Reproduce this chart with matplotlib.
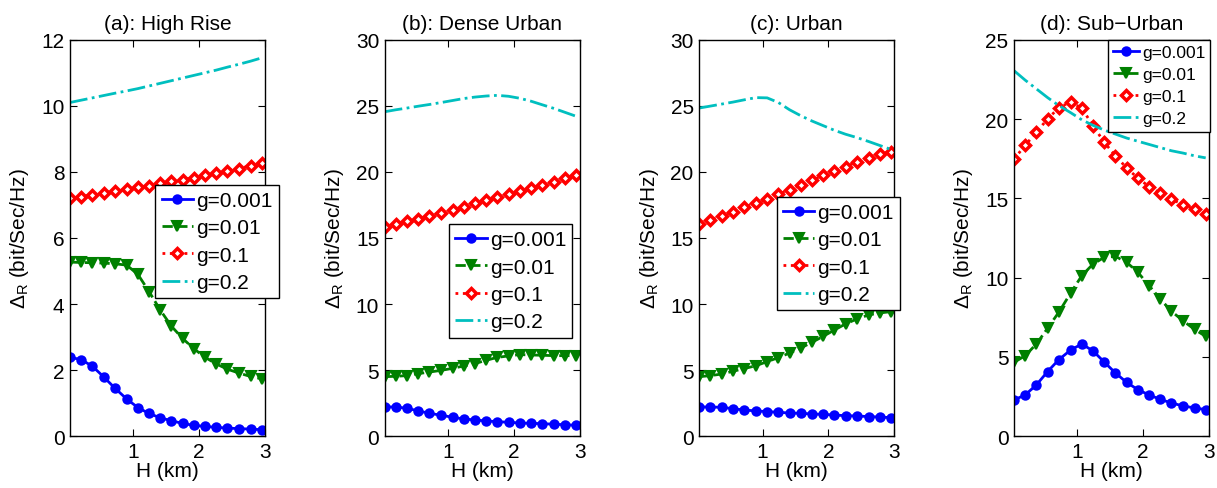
import numpy as np
import matplotlib
matplotlib.use("Agg")
import matplotlib.pyplot as plt

plt.rcParams['font.family'] = ['Liberation Sans', 'DejaVu Sans']
plt.rcParams['mathtext.fontset'] = 'custom'
plt.rcParams['mathtext.rm'] = 'Liberation Sans'
plt.rcParams['mathtext.it'] = 'Liberation Sans:italic'

# altura H (km), puntos comunes a todas las curvas
H = [0.04, 0.21, 0.38, 0.55, 0.72, 0.90, 1.07, 1.24, 1.41, 1.58,
     1.75, 1.92, 2.09, 2.26, 2.43, 2.61, 2.78, 2.95]

labels = ['g=0.001', 'g=0.01', 'g=0.1', 'g=0.2']
titles = ['(a): High Rise', '(b): Dense Urban', '(c): Urban', '(d): Sub\u2212Urban']

# (a) High Rise
a_g0001 = [2.39, 2.32, 2.12, 1.80, 1.46, 1.13, 0.87, 0.69, 0.56, 0.47, 0.39, 0.33, 0.30, 0.27, 0.25, 0.23, 0.22, 0.20]
a_g001 = [5.27, 5.26, 5.25, 5.24, 5.22, 5.18, 4.90, 4.38, 3.82, 3.33, 2.96, 2.65, 2.39, 2.19, 2.03, 1.91, 1.81, 1.74]
a_g01 = [7.21, 7.25, 7.31, 7.37, 7.42, 7.47, 7.53, 7.58, 7.65, 7.71, 7.77, 7.83, 7.90, 7.97, 8.04, 8.10, 8.19, 8.26]
a_g02 = [10.10, 10.17, 10.24, 10.31, 10.38, 10.45, 10.52, 10.60, 10.68, 10.76, 10.84, 10.92, 11.00, 11.08, 11.17, 11.26, 11.35, 11.45]

# (b) Dense Urban
b_g0001 = [2.22, 2.22, 2.12, 1.92, 1.74, 1.59, 1.44, 1.31, 1.24, 1.16, 1.11, 1.06, 1.01, 0.98, 0.96, 0.91, 0.88, 0.83]
b_g001 = [4.51, 4.54, 4.59, 4.74, 4.86, 4.99, 5.14, 5.32, 5.50, 5.75, 5.97, 6.08, 6.18, 6.15, 6.13, 6.10, 6.10, 6.10]
b_g01 = [15.83, 16.03, 16.26, 16.46, 16.69, 16.92, 17.14, 17.37, 17.62, 17.85, 18.07, 18.30, 18.53, 18.78, 19.03, 19.26, 19.51, 19.74]
b_g02 = [24.55, 24.70, 24.83, 24.97, 25.10, 25.25, 25.40, 25.55, 25.66, 25.74, 25.79, 25.72, 25.57, 25.35, 25.08, 24.80, 24.50, 24.20]

# (c) Urban
c_g0001 = [2.22, 2.22, 2.19, 2.09, 1.99, 1.92, 1.87, 1.82, 1.76, 1.74, 1.69, 1.66, 1.61, 1.56, 1.54, 1.49, 1.46, 1.41]
c_g001 = [4.51, 4.59, 4.71, 4.92, 5.12, 5.34, 5.65, 5.95, 6.30, 6.68, 7.11, 7.56, 8.04, 8.50, 8.87, 9.18, 9.33, 9.43]
c_g01 = [16.06, 16.36, 16.69, 16.99, 17.32, 17.65, 17.97, 18.30, 18.65, 19.01, 19.36, 19.74, 20.07, 20.39, 20.75, 21.07, 21.33, 21.53]
c_g02 = [24.83, 24.98, 25.13, 25.28, 25.45, 25.62, 25.60, 25.25, 24.70, 24.25, 23.85, 23.50, 23.15, 22.85, 22.60, 22.30, 22.00, 21.70]

# (d) Sub-Urban
d_g0001 = [2.29, 2.61, 3.24, 4.08, 4.83, 5.44, 5.82, 5.38, 4.68, 3.99, 3.40, 2.94, 2.61, 2.33, 2.10, 1.91, 1.79, 1.68]
d_g001 = [4.66, 5.08, 5.82, 6.81, 7.82, 9.03, 10.13, 10.86, 11.28, 11.34, 10.97, 10.34, 9.50, 8.66, 7.88, 7.27, 6.74, 6.30]
d_g01 = [17.48, 18.34, 19.18, 20.00, 20.71, 21.09, 20.67, 19.58, 18.53, 17.69, 16.91, 16.28, 15.74, 15.32, 14.94, 14.60, 14.31, 14.03]
d_g02 = [23.05, 22.45, 21.90, 21.35, 20.85, 20.40, 19.95, 19.60, 19.30, 19.05, 18.80, 18.60, 18.40, 18.20, 18.00, 17.85, 17.68, 17.55]

panels = [
    [a_g0001, a_g001, a_g01, a_g02],
    [b_g0001, b_g001, b_g01, b_g02],
    [c_g0001, c_g001, c_g01, c_g02],
    [d_g0001, d_g001, d_g01, d_g02],
]
ymax = [12, 30, 30, 25]
ystep = [2, 5, 5, 5]

# posicion de las leyendas (esquina sup. izq. en coords del eje) y tamanio de letra
leg_pos = [(0.4375, 0.634), (0.330, 0.535), (0.398, 0.604), (0.482, 1.0)]
leg_fs = [15, 15, 15, 12.5]

estilos = [
    dict(color='#0000ff', ls='-', marker='o', ms=6, mfc='#0000ff', mew=1.5),
    dict(color='#008000', ls='--', marker='v', ms=6.5, mfc='#008000', mew=1.5),
    dict(color='#ff0000', ls=':', marker='D', ms=5, mfc='white', mew=2.5),
    dict(color='#00bfbf', ls='-.', marker=None),
]

fig = plt.figure(figsize=(12.17, 4.89), dpi=100)
lefts = [70, 384.7, 699.3, 1014]
for k in range(4):
    ax = fig.add_axes([lefts[k] / 1217, 1 - 437.3 / 489, 195 / 1217, 396.6 / 489])
    for s in range(4):
        ax.plot(H, panels[k][s], lw=2, label=labels[s], **estilos[s])
    ax.set_xlim(0.04, 3)
    ax.set_ylim(0, ymax[k])
    ax.set_xticks([1, 2, 3])
    ax.set_yticks(np.arange(0, ymax[k] + 0.1, ystep[k]))
    ax.tick_params(direction='in', top=True, right=True, labelsize=15, length=5, width=0.8, pad=4)
    ax.set_title(titles[k], fontsize=15, pad=8)
    ax.set_xlabel('H (km)', fontsize=15, labelpad=0)
    ax.set_ylabel(r'$\Delta_{\rm R}$ (bit/Sec/Hz)', fontsize=15, labelpad=7)
    for sp in ax.spines.values():
        sp.set_linewidth(1)
    leg = ax.legend(loc='upper left', bbox_to_anchor=leg_pos[k], borderaxespad=0,
                    fontsize=leg_fs[k], fancybox=False, framealpha=1, edgecolor='black',
                    handlelength=1.5, handletextpad=0.15, labelspacing=0.4,
                    borderpad=0.3, numpoints=1)
    leg.get_frame().set_linewidth(1)
    leg.set_zorder(5)

fig.savefig('out.png', dpi=100)
